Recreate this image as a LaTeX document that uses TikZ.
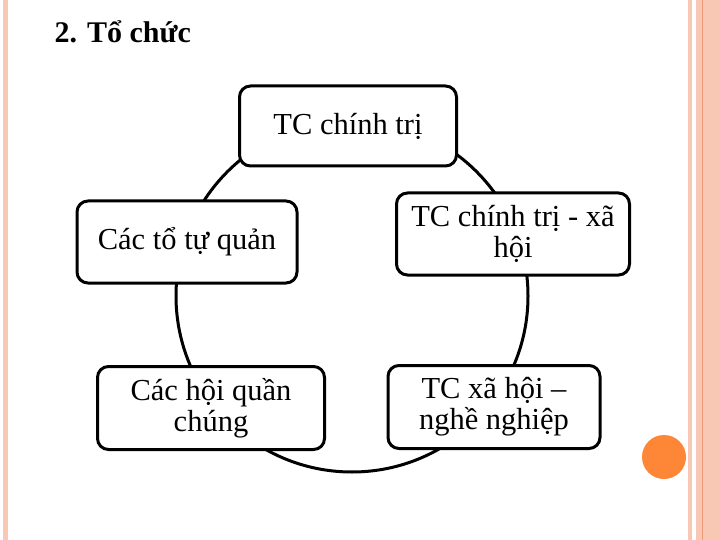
\documentclass[tikz,border=0pt]{standalone}
\usepackage{fontspec}
\setmainfont{Liberation Serif}
\usetikzlibrary{positioning}
\definecolor{slidepink}{HTML}{F9C8B4}
\definecolor{slideorange}{HTML}{FD8637}
\definecolor{slideline}{HTML}{EE9A78}
\tikzset{orgbox/.style={draw,line width=3pt,rounded corners=11pt,fill=white,
    align=center,inner sep=0pt,font=\fontsize{30.5}{31}\selectfont}}

\begin{document}
\begin{tikzpicture}[x=1pt,y=-1pt]
  \useasboundingbox (0,0) rectangle (720,540);
  % slide decoration
  \fill[slidepink] (3,0) rectangle (8,540);
  \fill[slidepink] (688,0) rectangle (692,540);
  \fill[slidepink] (696,0) rectangle (720,540);
  \draw[slideline,line width=1pt] (702,0) -- (702,540);
  \node[circle,fill=slideorange,minimum size=44pt,inner sep=0pt] (dot) at (664,457) {};
  \node[anchor=base west,font=\bfseries\fontsize{30}{32}\selectfont] (title) at (51,43) {2. Tổ chức};
  % ring and boxes
  \node[circle,draw,line width=3pt,minimum size=352pt,inner sep=0pt] (ring) at (352,296) {};
  \node[orgbox,minimum width=217pt,minimum height=80pt] (chinhtri) at (348,126) {TC chính trị};
  \node[orgbox,minimum width=220pt,minimum height=82pt] (tuquan) at (187,242) {Các tổ tự quản};
  \node[orgbox,minimum width=233pt,minimum height=82pt] (ctxh) at (513,234) {TC chính trị - xã\\hội};
  \node[orgbox,minimum width=227pt,minimum height=83pt] (quanchung) at (211,408) {Các hội quần\\chúng};
  \node[orgbox,minimum width=212pt,minimum height=83pt] (nghenghiep) at (494,407) {TC xã hội –\\nghề nghiệp};
\end{tikzpicture}
\end{document}
